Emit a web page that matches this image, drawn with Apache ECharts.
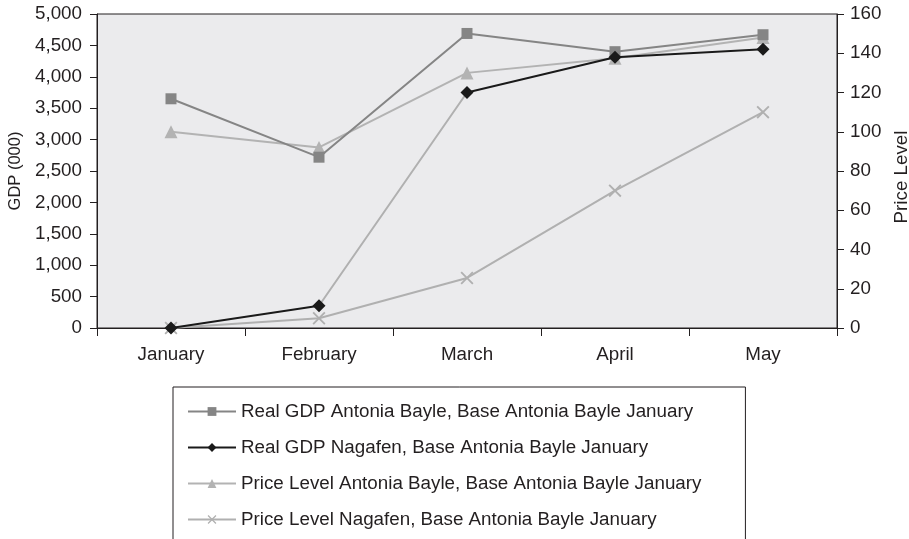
<!DOCTYPE html>
<html>
<head>
<meta charset="utf-8">
<script src="https://cdn.jsdelivr.net/npm/echarts@6/dist/echarts.min.js"></script>
<style>
html,body{margin:0;padding:0;background:#fff;}
#chart{width:909px;height:539px;}
</style>
</head>
<body>
<div id="chart"></div>
<script>
// Monthly data for the two regions
const months = ['January', 'February', 'March', 'April', 'May'];
const realGdpAntonia = [3650, 2720, 4690, 4400, 4670];
const realGdpNagafen = [0, 355, 3750, 4310, 4440];
const priceAntonia = [100, 92, 130, 137.5, 148];
const priceNagafen = [0, 5, 25.5, 70, 110];
const seriesNames = [
  'Real GDP Antonia Bayle, Base Antonia Bayle January',
  'Real GDP Nagafen, Base Antonia Bayle January',
  'Price Level Antonia Bayle, Base Antonia Bayle January',
  'Price Level Nagafen, Base Antonia Bayle January'
];

const FONT = '"Liberation Sans", Arial, sans-serif';
const TXT = '#231f20';
const FS = 18.8;
const crossPath = 'path://M0,1 L1,0 L5,4 L9,0 L10,1 L6,5 L10,9 L9,10 L5,6 L1,10 L0,9 L4,5 Z';

const chart = echarts.init(document.getElementById('chart'), null, {renderer: 'canvas'});

chart.setOption({
  animation: false,
  textStyle: {fontFamily: FONT, color: TXT},
  grid: {
    left: 97, right: 72, top: 14, bottom: 211,
    containLabel: false, outerBoundsMode: 'none',
    show: true, backgroundColor: '#ebebed', borderColor: '#231f20', borderWidth: 1
  },
  legend: {
    orient: 'vertical',
    left: 173, top: 387,
    height: 150,
    data: seriesNames,
    itemWidth: 48, itemHeight: 11, itemGap: 17,
    padding: [15, 44, 40, 14],
    borderColor: '#231f20', borderWidth: 1,
    textStyle: {fontFamily: FONT, fontSize: FS, color: TXT}
  },
  // the February–March stretch of the Nagafen GDP line is drawn in light grey
  visualMap: {
    show: false,
    type: 'piecewise',
    seriesIndex: 1,
    dimension: 0,
    pieces: [
      {lte: 1, color: '#1a1a1a'},
      {gt: 1, lt: 2, color: '#b0b0b0'},
      {gte: 2, color: '#1a1a1a'}
    ]
  },
  xAxis: {
    type: 'category',
    data: months,
    boundaryGap: true,
    axisLine: {lineStyle: {color: '#231f20', width: 1}},
    axisTick: {show: true, length: 8, lineStyle: {color: '#231f20'}},
    axisLabel: {fontFamily: FONT, fontSize: FS, color: TXT, margin: 17},
    splitLine: {show: false}
  },
  yAxis: [
    {
      type: 'value', min: 0, max: 5000, interval: 500, position: 'left',
      name: 'GDP (000)', nameLocation: 'middle', nameRotate: 90, nameGap: 72,
      nameTextStyle: {fontFamily: FONT, fontSize: 16.5, color: TXT},
      axisLine: {show: true, lineStyle: {color: '#231f20', width: 1}},
      axisTick: {show: true, length: 7, lineStyle: {color: '#231f20'}},
      axisLabel: {fontFamily: FONT, fontSize: FS, color: TXT, margin: 15,
        formatter: v => v.toLocaleString('en-US')},
      splitLine: {show: false}
    },
    {
      type: 'value', min: 0, max: 160, interval: 20, position: 'right',
      name: 'Price Level', nameLocation: 'middle', nameRotate: 90, nameGap: 52,
      nameTextStyle: {fontFamily: FONT, fontSize: FS, color: TXT, padding: [0, 12, 0, 0]},
      axisLine: {show: true, lineStyle: {color: '#231f20', width: 1}},
      axisTick: {show: true, length: 7, lineStyle: {color: '#231f20'}},
      axisLabel: {fontFamily: FONT, fontSize: FS, color: TXT, margin: 13},
      splitLine: {show: false}
    }
  ],
  series: [
    {
      name: seriesNames[0], type: 'line', yAxisIndex: 0, data: realGdpAntonia,
      symbol: 'rect', symbolSize: 11,
      itemStyle: {color: '#858585'}, lineStyle: {color: '#858585', width: 2}, z: 3
    },
    {
      name: seriesNames[1], type: 'line', yAxisIndex: 0, data: realGdpNagafen,
      symbol: 'diamond', symbolSize: 13,
      itemStyle: {color: '#1a1a1a'}, lineStyle: {width: 2}, z: 4
    },
    {
      name: seriesNames[2], type: 'line', yAxisIndex: 1, data: priceAntonia,
      symbol: 'triangle', symbolSize: 13,
      itemStyle: {color: '#b3b3b3'}, lineStyle: {color: '#b3b3b3', width: 2}, z: 2
    },
    {
      name: seriesNames[3], type: 'line', yAxisIndex: 1, data: priceNagafen,
      symbol: crossPath, symbolSize: 13,
      itemStyle: {color: '#b0b0b0'}, lineStyle: {color: '#b0b0b0', width: 2}, z: 2
    }
  ]
});
</script>
</body>
</html>
